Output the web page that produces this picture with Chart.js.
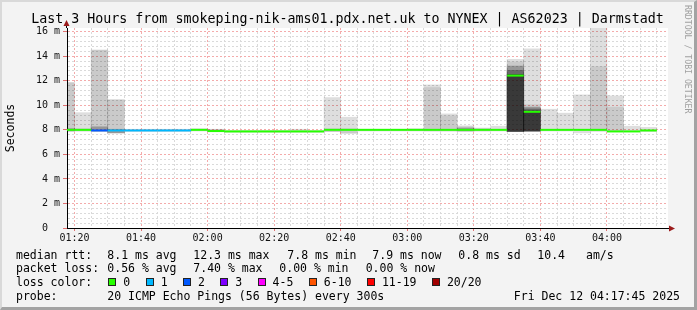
<!DOCTYPE html>
<html>
<head>
<meta charset="utf-8">
<script src="https://cdn.jsdelivr.net/npm/chart.js@4/dist/chart.umd.min.js"></script>
<style>
  html, body { margin: 0; padding: 0; background: #f3f3f3; }
  #wrap { position: relative; width: 697px; height: 310px; overflow: hidden; font-family: "DejaVu Sans Mono", monospace; }
  #chart { position: absolute; left: 0; top: 0; }
  #frame { position: absolute; left: 0; top: 0; width: 697px; height: 310px; box-sizing: border-box;
           border-style: solid; border-width: 2px 3px 3px 2px;
           border-color: #d9d9d9 #a3a3a3 #a3a3a3 #d9d9d9; pointer-events: none; }
  #title { position: absolute; left: 0; top: 11px; width: 695px; text-align: center; font-size: 13.3px;
           line-height: 16px; white-space: pre; color: #000; }
  .t { position: absolute; font-size: 11.5px; line-height: 14px; white-space: pre; color: #000; }
  #lossRow { position: absolute; left: 108.3px; top: 275px; height: 14px; display: flex; align-items: center;
             font-size: 11.5px; line-height: 14px; white-space: pre; }
  #lossRow .box { width: 8px; height: 8px; box-sizing: border-box; border: 1px solid #222; margin-right: 7px; }
  #lossRow .lbl { margin-right: 15.4px; }
  #credit { position: absolute; left: 683px; top: 5px; writing-mode: vertical-rl; font-size: 8.2px;
            line-height: 9px; color: #a0a0a0; white-space: pre; }
</style>
</head>
<body>
<div id="wrap">
  <canvas id="chart" width="697" height="310"></canvas>
  <div id="title">Last 3 Hours from smokeping-nik-ams01.pdx.net.uk to NYNEX | AS62023 | Darmstadt</div>
  <div id="credit">RRDTOOL / TOBI OETIKER</div>

  <span class="t" style="left:16px;top:247.5px">median rtt:</span>
  <span class="t" style="left:107.3px;top:247.5px">8.1 ms avg</span>
  <span class="t" style="left:193.3px;top:247.5px">12.3 ms max</span>
  <span class="t" style="left:287.3px;top:247.5px">7.8 ms min</span>
  <span class="t" style="left:372.3px;top:247.5px">7.9 ms now</span>
  <span class="t" style="left:458.3px;top:247.5px">0.8 ms sd</span>
  <span class="t" style="left:537.3px;top:247.5px">10.4</span>
  <span class="t" style="left:586px;top:247.5px">am/s</span>

  <span class="t" style="left:16px;top:261.3px">packet loss:</span>
  <span class="t" style="left:107.3px;top:261.3px">0.56 % avg</span>
  <span class="t" style="left:193.3px;top:261.3px">7.40 % max</span>
  <span class="t" style="left:279.3px;top:261.3px">0.00 % min</span>
  <span class="t" style="left:365.7px;top:261.3px">0.00 % now</span>

  <span class="t" style="left:16px;top:275px">loss color:</span>
  <div id="lossRow"></div>

  <span class="t" style="left:16px;top:289px">probe:</span>
  <span class="t" style="left:107.3px;top:289px">20 ICMP Echo Pings (56 Bytes) every 300s</span>
  <span class="t" style="right:17px;top:289px">Fri Dec 12 04:17:45 2025</span>

  <div id="frame"></div>
</div>
<script>
// 5-minute intervals (start times); the first one is cut off by the 3 hour window
const intervals = ['01:15', '01:20', '01:25', '01:30', '01:35', '01:40', '01:45', '01:50', '01:55',
  '02:00', '02:05', '02:10', '02:15', '02:20', '02:25', '02:30', '02:35', '02:40', '02:45', '02:50', '02:55',
  '03:00', '03:05', '03:10', '03:15', '03:20', '03:25', '03:30', '03:35', '03:40', '03:45', '03:50', '03:55',
  '04:00', '04:05', '04:10'];

// smoke: lowest ping, then the tops of nested bands (outer -> inner), in ms
const smokeLo = [7.9, 7.9, 7.9, 7.75, 7.85, 7.85, 7.85, 7.85, 7.9,
  7.85, 7.8, 7.8, 7.8, 7.8, 7.8, 7.8, 7.85, 7.72, 7.9, 7.9, 7.9,
  7.9, 7.9, 7.9, 7.9, 7.9, 7.9, 7.87, 7.9, 7.9, 7.9, 7.75, 7.9,
  7.85, 7.85, 7.85];
const smokeA = [11.85, 9.4, 14.5, 10.45, 8.05, 8.05, 8.05, 8.05, 8.1,
  8.05, 7.95, 7.95, 7.95, 7.95, 8.05, 7.95, 10.63, 9.03, 8.05, 8.05, 8.05,
  8.1, 11.66, 9.3, 8.33, 8.15, 8.3, 13.75, 14.6, 9.68, 9.36, 10.85, 16.35,
  10.77, 8.3, 8.2];
const smokeB = [11.85, 8.1, 14.5, 10.45, null, null, null, null, null,
  8.0, null, null, null, null, null, null, 8.1, 8.1, null, null, null,
  null, 11.45, 9.15, 8.25, 8.1, null, 13.55, 10.05, null, null, null, 13.15,
  9.85, null, null];
const smokeC = [8.1, null, 8.25, 8.05, null, null, null, null, null,
  7.98, null, null, null, null, null, null, null, null, null, null, null,
  null, null, null, 8.15, null, null, 13.2, 9.85, null, null, null, null,
  null, null, null];
const smokeD = [null, null, null, null, null, null, null, null, null,
  null, null, null, null, null, null, null, null, null, null, null, null,
  null, null, null, null, null, null, 12.85, 9.7, null, null, null, null,
  null, null, null];
const smokeE = [null, null, null, null, null, null, null, null, null,
  null, null, null, null, null, null, null, null, null, null, null, null,
  null, null, null, null, null, null, 12.5, 9.55, null, null, null, null,
  null, null, null];

const medianRtt = [8.0, 8.0, 7.95, 7.95, 7.95, 7.95, 7.95, 7.95, 8.0,
  7.9, 7.87, 7.87, 7.87, 7.87, 7.87, 7.87, 8.0, 8.0, 8.0, 8.0, 8.0,
  8.0, 8.0, 8.0, 8.0, 8.0, 8.0, 12.42, 9.47, 8.0, 8.0, 8.0, 8.0,
  7.87, 7.87, 7.95];
// index into lossLabels / lossColors
const lossIdx = [0, 0, 2, 1, 1, 1, 1, 1, 0,
  0, 0, 0, 0, 0, 0, 0, 0, 0, 0, 0, 0,
  0, 0, 0, 0, 0, 0, 0, 0, 0, 0, 0, 0,
  0, 0, 0];

const lossLabels = ['0', '1', '2', '3', '4-5', '6-10', '11-19', '20/20'];
const lossColors = ['#26ff00', '#00b8ff', '#0059ff', '#7e00ff', '#ff00ff', '#ff5500', '#ff0000', '#a10000'];

const windowStart = '01:17:45';
const windowEnd = '04:17:45';
const stepMin = 5;
const yMax = 16.3;

const toMin = s => { const p = s.split(':').map(Number); return p[0] * 60 + p[1] + (p[2] || 0) / 60; };
const fmt = m => String(Math.floor(m / 60)).padStart(2, '0') + ':' + String(m % 60).padStart(2, '0');

const starts = intervals.map(toMin);
const tMin = toMin(windowStart);
const tMax = toMin(windowEnd);

// legend swatches
const row = document.getElementById('lossRow');
lossLabels.forEach((l, i) => {
  const b = document.createElement('span');
  b.className = 'box';
  b.style.background = lossColors[i];
  const t = document.createElement('span');
  t.className = 'lbl';
  t.textContent = l;
  row.appendChild(b);
  row.appendChild(t);
});

function band(tops, alpha) {
  const pts = [];
  starts.forEach((t, i) => {
    if (tops[i] != null) pts.push({ x: t + stepMin / 2, y: [smokeLo[i], tops[i]] });
  });
  return {
    type: 'bar', data: pts, backgroundColor: 'rgba(0,0,0,' + alpha + ')', borderWidth: 0,
    barPercentage: 1, categoryPercentage: 1, grouped: false, clip: 0
  };
}

const medianPts = [];
starts.forEach((t, i) => {
  medianPts.push({ x: t, y: medianRtt[i] }, { x: t + stepMin, y: medianRtt[i] }, { x: t + stepMin, y: null });
});

const isMajorX = v => Math.abs(v % 20) < 1e-6;
const isMajorY = v => Math.abs(v / 2 - Math.round(v / 2)) < 1e-6;
const minorGrid = '#dadada';
const majorGrid = '#f4abab';

const plotBg = {
  id: 'plotBg',
  beforeDraw(chart) {
    const { ctx, chartArea: a } = chart;
    ctx.save();
    ctx.fillStyle = '#ffffff';
    ctx.fillRect(a.left, a.top, a.right - a.left + 2, a.bottom - a.top);
    ctx.restore();
  }
};

const axisArrows = {
  id: 'axisArrows',
  afterDraw(chart) {
    const { ctx, chartArea: a } = chart;
    const x0 = Math.round(a.left) - 0.5, y0 = Math.round(a.bottom) + 0.5;
    ctx.save();
    ctx.strokeStyle = '#000';
    ctx.lineWidth = 1;
    ctx.beginPath();
    ctx.moveTo(x0, a.top); ctx.lineTo(x0, a.top - 4);
    ctx.moveTo(a.right, y0); ctx.lineTo(a.right + 4, y0);
    ctx.stroke();
    ctx.fillStyle = '#9b1b1b';
    ctx.beginPath();
    ctx.moveTo(x0, a.top - 8); ctx.lineTo(x0 - 3, a.top - 2); ctx.lineTo(x0 + 3, a.top - 2); ctx.closePath(); ctx.fill();
    ctx.beginPath();
    ctx.moveTo(a.right + 9, y0); ctx.lineTo(a.right + 3, y0 - 3); ctx.lineTo(a.right + 3, y0 + 3); ctx.closePath(); ctx.fill();
    ctx.restore();
  }
};

new Chart(document.getElementById('chart'), {
  type: 'bar',
  data: {
    datasets: [
      {
        type: 'line', data: medianPts, borderColor: lossColors[0], borderWidth: 2, pointRadius: 0,
        spanGaps: false, clip: 0,
        segment: { borderColor: ctx => lossColors[lossIdx[Math.floor(ctx.p0DataIndex / 3)]] }
      },
      band(smokeE, 0.45),
      band(smokeD, 0.30),
      band(smokeC, 0.25),
      band(smokeB, 0.09),
      band(smokeA, 0.13)
    ]
  },
  options: {
    responsive: false,
    animation: false,
    devicePixelRatio: 1,
    layout: { padding: { left: 0, right: 31, top: 28, bottom: 0 } },
    plugins: {
      legend: { display: false },
      tooltip: { enabled: false },
      title: { display: false }
    },
    scales: {
      x: {
        type: 'linear',
        min: tMin,
        max: tMax,
        offset: false,
        afterBuildTicks: axis => {
          const ts = starts.concat([starts[starts.length - 1] + stepMin]).filter(t => t >= tMin && t <= tMax);
          axis.ticks = ts.map(v => ({ value: v }));
        },
        afterFit: s => { s.height = 82; },
        grid: {
          offset: false,
          color: ctx => isMajorX(ctx.tick.value) ? majorGrid : minorGrid,
          tickColor: ctx => isMajorX(ctx.tick.value) ? '#e07070' : 'rgba(0,0,0,0)',
          tickLength: 3
        },
        border: { color: '#000', width: 1, dash: [2, 2] },
        ticks: {
          autoSkip: false,
          maxRotation: 0,
          padding: 1,
          color: '#111',
          font: { family: 'DejaVu Sans Mono', size: 10 },
          callback: v => isMajorX(v) ? fmt(v) : ''
        }
      },
      y: {
        min: 0,
        max: yMax,
        afterFit: s => { s.width = 67; },
        grid: {
          color: ctx => isMajorY(ctx.tick.value) ? majorGrid : minorGrid,
          tickColor: ctx => isMajorY(ctx.tick.value) ? '#e07070' : 'rgba(0,0,0,0)',
          tickLength: 4
        },
        border: { color: '#000', width: 1, dash: [2, 2] },
        ticks: {
          stepSize: 0.4,
          maxTicksLimit: 100,
          autoSkip: false,
          includeBounds: false,
          padding: 3,
          color: '#111',
          font: { family: 'DejaVu Sans Mono', size: 10 },
          callback: v => {
            if (!isMajorY(v)) return '';
            const r = Math.round(v);
            return r === 0 ? '0  ' : r + ' m';
          }
        },
        title: {
          display: true,
          text: 'Seconds',
          color: '#000',
          font: { family: 'DejaVu Sans Mono', size: 11.5 },
          padding: { top: 4, bottom: 0 }
        }
      }
    }
  },
  plugins: [plotBg, axisArrows]
});
</script>
</body>
</html>
